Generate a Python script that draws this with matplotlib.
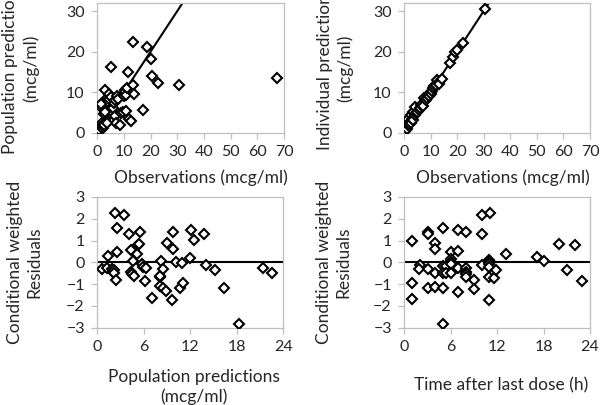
import numpy as np
import matplotlib
matplotlib.use("Agg")
import matplotlib.pyplot as plt

### DATA
### ------------------
obs_pop = [0.8, 1.0, 1.5, 1.8, 2.0, 2.2, 2.5, 3.0, 3.2, 3.5, 3.8, 4.0, 4.2, 4.5, 4.8, 5.0, 5.0,
           5.2, 5.5, 5.8, 6.0, 6.2, 6.5, 6.6, 7.0, 7.3, 7.8, 8.5, 9.0, 9.5, 10.0, 10.3, 10.5,
           10.6, 10.8, 11.0, 11.6, 12.0, 12.5, 13.4, 13.5, 13.8, 17.3, 18.5, 20.0, 20.4, 22.8,
           30.7, 67.4, 2.5, 3.5, 1.5, 2.8]
pop_pred = [0.6, 6.7, 1.5, 2.3, 1.2, 2.0, 1.8, 10.5, 8.0, 8.5, 4.5, 7.5, 8.2, 9.5, 4.6, 16.2, 6.0,
            8.8, 5.0, 4.8, 6.0, 7.2, 8.0, 4.0, 2.5, 9.0, 8.4, 2.0, 4.8, 5.0, 9.0, 10.5, 10.0,
            9.4, 5.4, 11.0, 15.0, 3.3, 3.0, 22.3, 11.7, 9.6, 5.6, 21.2, 18.2, 14.0, 12.3,
            11.8, 13.6, 4.5, 2.5, 7.0, 5.0]

obs_ind = [0.0, 0.4, 0.5, 0.8, 1.0, 1.2, 1.6, 1.5, 2.0, 2.5, 2.5, 3.0, 3.5, 3.5, 4.0, 4.1, 4.5,
           5.0, 5.5, 6.0, 6.5, 7.0, 7.5, 8.3, 8.8, 9.1, 9.5, 10.0, 10.3, 10.6, 11.0, 11.3, 12.0,
           12.3, 13.0, 13.3, 14.2, 17.3, 18.3, 19.2, 20.1, 22.3, 30.5]
ind_pred = [0.7, 1.9, 0.5, 1.2, 2.7, 1.0, 3.5, 1.8, 2.2, 4.4, 2.5, 3.4, 5.2, 3.2, 4.3, 6.4, 4.8,
            5.2, 5.5, 6.2, 6.8, 6.6, 8.5, 8.0, 8.6, 9.3, 9.0, 10.1, 9.6, 10.4, 10.9, 11.5, 11.7,
            13.0, 12.6, 12.0, 13.2, 17.1, 18.7, 19.9, 20.4, 22.2, 30.6]

cw_pop = [0.6, 1.3, 1.4, 1.9, 2.0, 2.1, 2.2, 2.3, 2.4, 2.6, 2.6, 3.4, 4.1, 4.3, 4.4, 4.5, 4.65,
          4.7, 5.1, 5.3, 5.4, 5.5, 5.8, 5.9, 6.1, 6.3, 7.1, 8.1, 8.15, 8.1, 8.2, 8.5, 8.5, 8.8,
          9.0, 9.7, 9.8, 9.8, 10.2, 10.7, 10.9, 11.0, 11.9, 12.1, 12.5, 13.8, 14.0, 15.2, 16.4,
          18.3, 21.4, 22.5]
cwres_pop = [-0.32, -0.28, 0.29, -0.3, -0.45, -0.35, -0.5, 2.26, -0.82, 1.57, 0.46, 2.15, 1.29,
             0.57, -0.45, -0.55, 0.06, -0.63, 0.37, 0.8, 0.85, 1.41, -0.1, -0.2, -0.85, -0.28,
             -1.66, -0.66, -0.62, -1.1, 0.06, -0.31, -1.2, -1.33, 0.87, -1.74, 1.41, 0.6, 0.0,
             -1.2, -0.05, -0.97, 0.18, 1.49, 1.03, 1.3, -0.12, -0.35, -1.2, -2.86, -0.28, -0.51]

tad = [1.0, 1.0, 1.0, 2.0, 1.95, 3.0, 3.0, 3.0, 3.0, 4.0, 4.0, 4.0, 4.0, 5.0, 5.0, 5.0, 5.0, 5.0,
       5.4, 5.4, 6.0, 6.0, 6.0, 6.0, 6.0, 7.0, 7.0, 7.0, 7.0, 8.0, 8.0, 8.0, 8.0, 8.0, 9.0, 9.0,
       10.0, 10.0, 10.0, 11.1, 11.0, 11.0, 11.0, 11.0, 10.9, 11.0, 11.6, 11.85, 11.0, 13.1,
       17.1, 18.1, 20.0, 21.0, 22.1, 23.0]
cwres_tad = [1.0, -0.97, -1.69, -0.12, -0.32, -0.31, 1.38, 1.3, -1.2, 0.87, 0.6, -0.51, -1.15,
             1.57, -0.15, -0.48, -1.2, -2.84, -0.15, -0.48, 0.46, 0.15, 0.03, -0.1, -0.48, 1.49,
             0.52, -0.28, -1.35, 1.41, -0.28, -0.44, -0.55, -0.66, -0.82, -1.24, 2.15, 1.29,
             -0.12, 2.26, 0.1, 0.05, 0.0, -0.1, -0.23, -0.66, -0.74, -0.35, -1.74, 0.37, 0.26,
             0.06, 0.83, -0.35, 0.8, -0.85]

plt.rcParams['font.family'] = ['Lato', 'DejaVu Sans']

SPINE = '#BFBFBF'
TEXT = '#262626'

### AUX METHODS
### ------------------

def styleAxes(ax, xticks, yticks, xlim, ylim):
    ax.set_xlim(xlim)
    ax.set_ylim(ylim)
    ax.set_xticks(xticks)
    ax.set_yticks(yticks)
    for s in ax.spines.values():
        s.set_color(SPINE)
        s.set_linewidth(0.9)
    ax.tick_params(direction='out', length=4, width=0.9, color=SPINE,
                   labelsize=11.5, labelcolor=TEXT, pad=5)

def scatter(ax, x, y):
    ax.plot(x, y, linestyle='none', marker='D', markersize=4.8, markeredgewidth=1.5,
            markerfacecolor='white', markeredgecolor='black', zorder=3)

def labels(ax, xlabel, ylabel, xpos, ypos):
    ax.set_xlabel(xlabel, fontsize=12.5, color=TEXT, va='center', linespacing=1.3)
    ax.set_ylabel(ylabel, fontsize=12.5, color=TEXT, va='center', linespacing=1.3)
    ax.xaxis.set_label_coords(*xpos)
    ax.yaxis.set_label_coords(*ypos)

### MAIN
### ------------------

fig = plt.figure(figsize=(6, 4.05), dpi=100)
W, H = 600.0, 405.0

def box(l, t, r, b):
    return [l / W, 1 - b / H, (r - l) / W, (b - t) / H]

ax1 = fig.add_axes(box(97.3, 3.3, 284.0, 132.7))
ax2 = fig.add_axes(box(404.0, 3.3, 590.0, 132.7))
ax3 = fig.add_axes(box(97.3, 197.0, 283.3, 327.5))
ax4 = fig.add_axes(box(404.3, 197.0, 590.0, 327.5))

line = np.array([0, 70])

styleAxes(ax1, range(0, 71, 10), [0, 10, 20, 30], (0, 70), (0, 31.9))
ax1.plot(line, line, color='black', lw=1.5, zorder=2)
scatter(ax1, obs_pop, pop_pred)
labels(ax1, 'Observations (mcg/ml)', 'Population predictions\n(mcg/ml)', (0.555, -0.35), (-0.41, 0.5))

styleAxes(ax2, range(0, 71, 10), [0, 10, 20, 30], (0, 70), (0, 31.9))
ax2.plot(line, line, color='black', lw=1.5, zorder=2)
scatter(ax2, obs_ind, ind_pred)
labels(ax2, 'Observations (mcg/ml)', 'Individual predictions\n(mcg/ml)', (0.53, -0.35), (-0.37, 0.5))

styleAxes(ax3, range(0, 25, 6), range(-3, 4), (0, 24), (-3, 3))
ax3.axhline(0, color='black', lw=1.5, zorder=2)
scatter(ax3, cw_pop, cwres_pop)
labels(ax3, 'Population predictions\n(mcg/ml)', 'Conditional weighted\nResiduals', (0.52, -0.455), (-0.39, 0.5))

styleAxes(ax4, range(0, 25, 6), range(-3, 4), (0, 24), (-3, 3))
ax4.axhline(0, color='black', lw=1.5, zorder=2)
scatter(ax4, tad, cwres_tad)
labels(ax4, 'Time after last dose (h)', 'Conditional weighted\nResiduals', (0.52, -0.44), (-0.38, 0.5))

fig.savefig('out.png', dpi=100)
